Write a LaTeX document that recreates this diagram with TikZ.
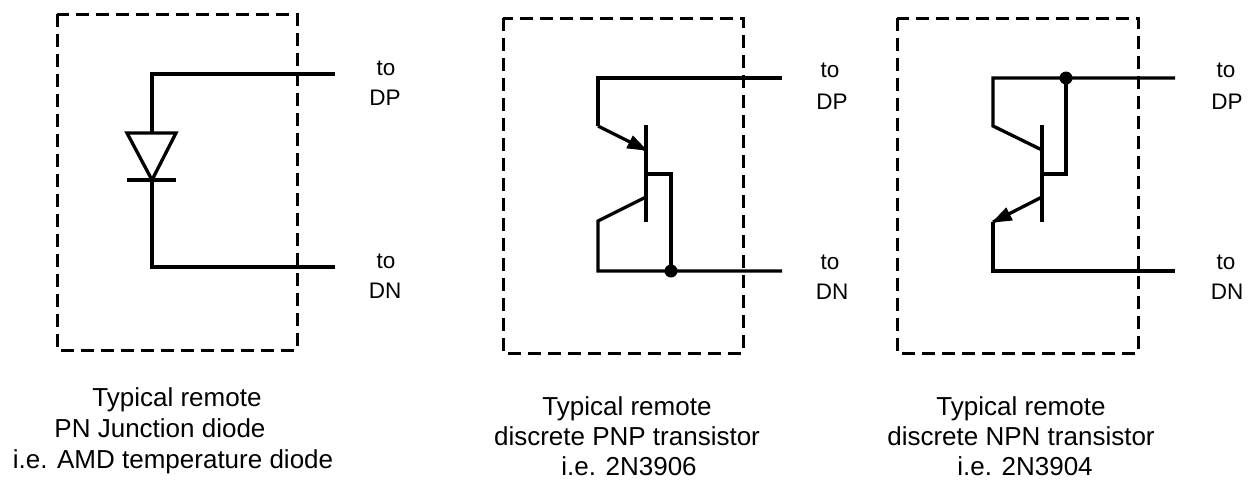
\documentclass[tikz,border=0pt]{standalone}
\usepackage{fontspec}
\setmainfont{Liberation Sans}
\usetikzlibrary{arrows.meta}
\tikzset{
  wire/.style={line width=3.3pt, line join=miter},
  boxline/.style={line width=3pt, dash pattern=on 13pt off 7pt},
  lbl/.style={font=\fontsize{22.5}{30}\selectfont, anchor=base, inner sep=0pt},
  captxt/.style={font=\fontsize{26}{30.5}\selectfont, anchor=base, inner sep=0pt},
  jdot/.style={fill=black},
  ahead/.style={fill=black, draw=black, line width=1pt, line join=miter}
}
\begin{document}
\begin{tikzpicture}[x=1pt,y=-1pt]
\useasboundingbox (0,0) rectangle (1255,480);

% ---------- Diode ----------
\draw[boxline] (57,14) rectangle (297,350);
\coordinate (d1) at (152,74);
\coordinate (d1r) at (335,74);
\coordinate (dA) at (152,133);
\coordinate (dK) at (152,180);
\coordinate (d2) at (152,267);
\coordinate (d2r) at (335,267);
\draw[wire] (d1r) -- (d1) -- (dA);
\draw[wire] (127,133) -- (176,133) -- (dK) -- cycle;
\draw[wire] (127,180) -- (176,180);
\draw[wire] (dK) -- (d2) -- (d2r);
\node[lbl] (to1a) at (386,75) {to};
\node[lbl] (dp1) at (385,105) {DP};
\node[lbl] (to1b) at (386,268) {to};
\node[lbl] (dn1) at (385,298) {DN};

% ---------- PNP ----------
\draw[boxline] (503,18) rectangle (743,353);
\coordinate (p1r) at (782,78);
\coordinate (p1) at (598,78);
\coordinate (pE0) at (598,126);
\coordinate (pE) at (646,150);
\coordinate (pBt) at (646,125);
\coordinate (pBb) at (646,222);
\coordinate (pC) at (646,197);
\coordinate (pC0) at (598,221);
\coordinate (p2) at (598,271);
\coordinate (p2r) at (782,271);
\coordinate (pB) at (646,174);
\coordinate (pB1) at (671,174);
\coordinate (pJ) at (671,271);
\draw[wire] (p1r) -- (p1) -- (pE0);
\draw[wire] (pE0) -- (pE);
\fill[ahead] (pE) -- (627.0,147.9) -- (633.0,136.3) -- cycle;
\draw[wire] (pBt) -- (pBb);
\draw[wire] (pC) -- (pC0) -- (p2) -- (p2r);
\draw[wire] (pB) -- (pB1) -- (pJ);
\fill[jdot] (pJ) circle (6.5);
\node[lbl] (to2a) at (830,77) {to};
\node[lbl] (dp2) at (832,109) {DP};
\node[lbl] (to2b) at (830,269) {to};
\node[lbl] (dn2) at (832,299) {DN};

% ---------- NPN ----------
\draw[boxline] (897,18) rectangle (1138,353);
\coordinate (n1r) at (1175,78);
\coordinate (n1) at (993,78);
\coordinate (nC0) at (993,126);
\coordinate (nC) at (1042,150);
\coordinate (nBt) at (1042,125);
\coordinate (nBb) at (1042,222);
\coordinate (nE) at (1042,197);
\coordinate (nE0) at (993,222);
\coordinate (n2) at (993,271);
\coordinate (n2r) at (1175,271);
\coordinate (nB) at (1042,174);
\coordinate (nB1) at (1066,174);
\coordinate (nJ) at (1066,78);
\draw[wire] (n1r) -- (n1) -- (nC0) -- (nC);
\draw[wire] (nBt) -- (nBb);
\draw[wire] (nE) -- (nE0);
\fill[ahead] (nE0) -- (1006.1,208.3) -- (1012.1,220.0) -- cycle;
\draw[wire] (nE0) -- (n2) -- (n2r);
\draw[wire] (nB) -- (nB1) -- (nJ);
\fill[jdot] (nJ) circle (6.5);
\node[lbl] (to3a) at (1226,77) {to};
\node[lbl] (dp3) at (1227,109) {DP};
\node[lbl] (to3b) at (1226,269) {to};
\node[lbl] (dn3) at (1227,299) {DN};

% ---------- Captions ----------
\node[captxt] (c1a) at (177,406) {Typical remote};
\node[captxt] (c1b) at (160,437) {PN Junction diode};
\node[captxt] (c1c) at (173,468) {i.e. AMD temperature diode};
\node[captxt] (c2a) at (627,415) {Typical remote};
\node[captxt] (c2b) at (627,445) {discrete PNP transistor};
\node[captxt] (c2c) at (629,475) {i.e. 2N3906};
\node[captxt] (c3a) at (1021,415) {Typical remote};
\node[captxt] (c3b) at (1021,445) {discrete NPN transistor};
\node[captxt] (c3c) at (1025,475) {i.e. 2N3904};
\end{tikzpicture}
\end{document}
